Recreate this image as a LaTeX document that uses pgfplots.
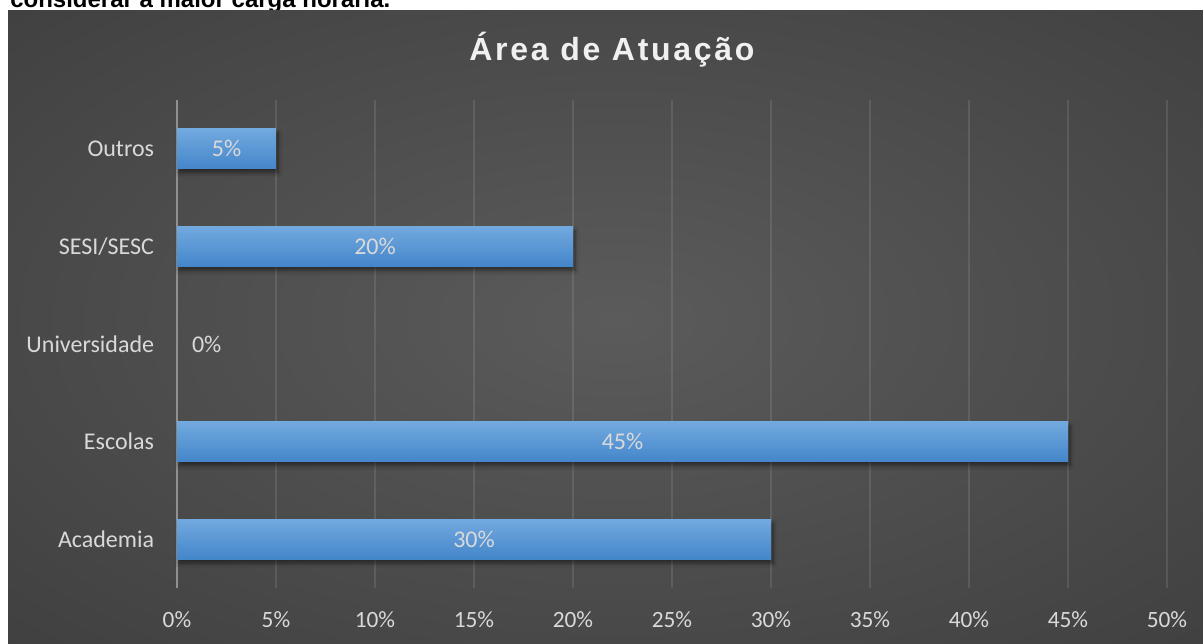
\documentclass[border=0pt]{standalone}
\usepackage{pgfplots}
\pgfplotsset{compat=1.18}
\usepackage{pgfplotstable}
\usepackage{fontspec}
\setmainfont{Carlito}
\newfontfamily\arialfont{Liberation Sans}
\newfontfamily\titlefont{Liberation Sans}[LetterSpace=8.5]
\usetikzlibrary{shadows.blur}

\definecolor{bgin}{HTML}{5B5B5B}
\definecolor{bgmid}{HTML}{363636}
\definecolor{bgout}{HTML}{262626}
\definecolor{bartop}{HTML}{72A9DF}
\definecolor{barbot}{HTML}{4486CA}
\definecolor{lbl}{HTML}{D9D9D9}
\definecolor{ttl}{HTML}{F0F0F0}
\definecolor{axln}{HTML}{909090}

\pgfdeclareradialshading{bgshade}{\pgfpoint{0bp}{0bp}}{color(0bp)=(bgin); color(35bp)=(bgmid); color(50bp)=(bgout)}

\pgfplotstableread{
y x v
0 15 30
1 22.5 45
2 1.5 0
3 10 20
4 2.5 5
}\labtab

\pgfplotsset{mybar/.style={xbar, bar width=30pt, bar shift=0pt, draw=none,
  top color=bartop, bottom color=barbot,
  blur shadow={shadow xshift=1.5pt, shadow yshift=-3pt, shadow blur steps=6, shadow blur radius=3pt, shadow opacity=50}}}

\begin{document}
\begin{tikzpicture}
\useasboundingbox (0,0) rectangle (902.25pt,482.25pt);
\clip (0,0) rectangle (902.25pt,482.25pt);
\node[anchor=base west, inner sep=0pt, font=\arialfont\bfseries\fontsize{18pt}{20pt}\selectfont]
  at (7.5pt,476.5pt) {considerar a maior carga horária.};
\begin{scope}
\clip (6pt,0pt) rectangle (902.25pt,474pt);
\shade[shading=bgshade] (-176.25pt,-95.25pt) rectangle (1098.75pt,579.75pt);
\end{scope}
\node[anchor=base, inner sep=0pt, text=ttl, font=\titlefont\bfseries\fontsize{24pt}{26pt}\selectfont]
  at (459pt,436.5pt) {Área de Atuação};
\begin{axis}[
  at={(132.75pt,41.25pt)}, anchor=south west,
  scale only axis, width=742.5pt, height=366pt,
  xmin=0, xmax=50, ymin=-0.5, ymax=4.5,
  xtick={0,5,...,50},
  xticklabels={0\%,5\%,10\%,15\%,20\%,25\%,30\%,35\%,40\%,45\%,50\%},
  ytick={0,1,2,3,4},
  yticklabels={Academia,Escolas,Universidade,SESI/SESC,Outros},
  major tick length=0pt,
  axis line style={draw=none},
  xmajorgrids,
  grid style={draw=white, draw opacity=0.1, line width=1.1pt},
  extra x ticks={0}, extra x tick labels={},
  extra x tick style={grid style={draw=axln, draw opacity=1, line width=1.5pt}},
  xticklabel style={font=\fontsize{17.5pt}{20pt}\selectfont, text=lbl, anchor=center, inner sep=0pt, yshift=-24pt},
  yticklabel style={font=\fontsize{18pt}{20pt}\selectfont, text=lbl, anchor=east, inner sep=0pt, xshift=-17pt},
  clip=false,
]
\addplot[mybar] coordinates {(30,0)};
\addplot[mybar] coordinates {(45,1)};
\addplot[mybar] coordinates {(20,3)};
\addplot[mybar] coordinates {(5,4)};
\addplot[draw=none, mark=none, point meta=explicit symbolic,
  nodes near coords={\pgfplotspointmeta\%},
  every node near coord/.append style={anchor=center, text=lbl, inner sep=0pt,
    font=\fontsize{18pt}{20pt}\selectfont}]
  table[x=x, y=y, meta=v] {\labtab};
\end{axis}
\end{tikzpicture}
\end{document}
